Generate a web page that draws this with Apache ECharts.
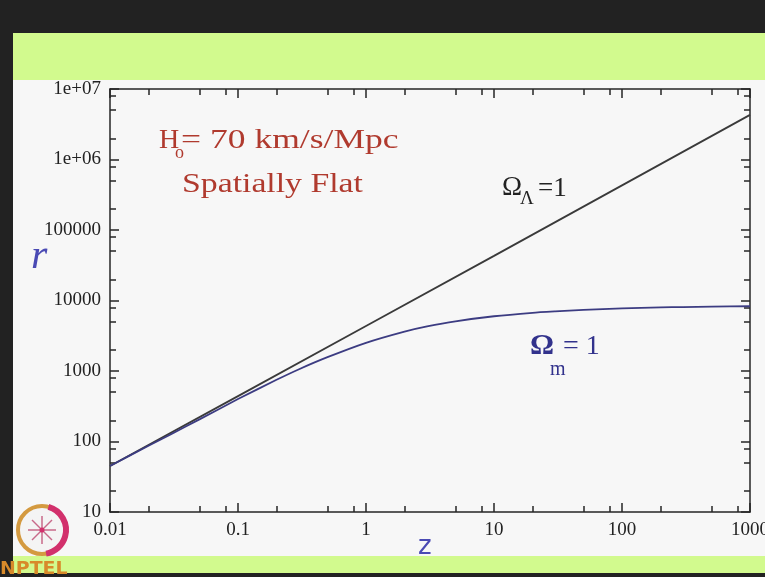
<!DOCTYPE html>
<html>
<head>
<meta charset="utf-8">
<title>comoving distance vs redshift</title>
<script src="https://cdn.jsdelivr.net/npm/echarts@6/dist/echarts.min.js"></script>
<style>
html, body { margin: 0; padding: 0; background: #f7f7f7; }
#main { width: 765px; height: 577px; }
</style>
</head>
<body>
<div id="main"></div>
<script>
// values (log-log)
var zLambda = [0.01, 0.1, 1, 10, 100, 1000];
var rLambda = [45, 440, 4350, 43000, 430000, 4300000];

var zMatter = [0.01, 0.02, 0.03, 0.05, 0.1, 0.2, 0.3, 0.5, 1, 2, 3, 5, 10, 20, 30, 50, 100, 200, 300, 500, 1000];
var rMatter = [45, 87, 127, 206, 400, 750, 1060, 1570, 2510, 3620, 4290, 5070, 5980, 6690, 7000, 7360, 7720, 7970, 8080, 8180, 8290];

// axis ticks
var xMajor = [0.01, 0.1, 1, 10, 100, 1000];
var xMinor = [0.02, 0.05, 0.08, 0.2, 0.5, 0.8, 2, 5, 8, 20, 50, 80, 200, 500, 800];
var xTickLabels = ['0.01', '0.1', '1', '10', '100', '1000'];
var yMajor = [10, 100, 1000, 10000, 100000, 1000000, 10000000];
var yMinor = [20, 50, 80, 200, 500, 800, 2000, 5000, 8000, 20000, 50000, 80000,
              200000, 500000, 800000, 2000000, 5000000, 8000000];
var yTickLabels = ['10', '100', '1000', '10000', '100000', '1e+06', '1e+07'];

(function(){
	var myChart = echarts.init(document.getElementById('main'));

	var axisColor = '#262626';
	var red = '#b03a2e';
	var blue = '#32328c';

	function pairs(xs, ys) {
		var out = [];
		for (var i = 0; i < xs.length; i++) out.push([xs[i], ys[i]]);
		return out;
	}

	function logAxis(position, min, max, ticks, tickLen, withLine, labels, labelIndex) {
		return {
			type: 'log',
			logBase: 10,
			min: min,
			max: max,
			position: position,
			axisLine: { show: withLine, onZero: false, lineStyle: { color: axisColor, width: 1.5 } },
			axisTick: { show: true, inside: true, length: tickLen, customValues: ticks,
				lineStyle: { color: axisColor, width: 1.5 } },
			axisLabel: labels ? {
				customValues: ticks,
				fontFamily: 'Liberation Serif',
				fontSize: 19,
				color: '#222',
				margin: 9,
				formatter: function (v) { return labels[labelIndex(v)]; }
			} : { show: false },
			splitLine: { show: false },
			minorTick: { show: false }
		};
	}

	var xIdx = function (v) { return Math.round(Math.log10(v)) + 2; };
	var yIdx = function (v) { return Math.round(Math.log10(v)) - 1; };

	function txt(x, y, s, font, fill, sx) {
		return {
			type: 'text', x: x, y: y, z: 100, scaleX: sx || 1,
			style: { text: s, font: font, fill: fill, textAlign: 'left', textVerticalAlign: 'middle' }
		};
	}

	option = {
		backgroundColor: '#f7f7f7',
		animation: false,
		grid: {
			left: 110, right: 15, top: 89, bottom: 65,
			containLabel: false,
			outerBoundsMode: 'none',
			show: true,
			backgroundColor: '#f7f7f7',
			borderWidth: 0
		},
		xAxis: [
			logAxis('bottom', 0.01, 1000, xMajor, 9, true, xTickLabels, xIdx),
			logAxis('bottom', 0.01, 1000, xMinor, 6, false),
			logAxis('top', 0.01, 1000, xMajor, 9, true),
			logAxis('top', 0.01, 1000, xMinor, 6, false)
		],
		yAxis: [
			logAxis('left', 10, 10000000, yMajor, 9, true, yTickLabels, yIdx),
			logAxis('left', 10, 10000000, yMinor, 6, false),
			logAxis('right', 10, 10000000, yMajor, 9, true),
			logAxis('right', 10, 10000000, yMinor, 6, false)
		],
		series: [
			{
				name: 'Omega_Lambda=1',
				type: 'line',
				data: pairs(zLambda, rLambda),
				showSymbol: false,
				lineStyle: { color: '#3a3a3a', width: 1.8 }
			},
			{
				name: 'Omega_m=1',
				type: 'line',
				data: pairs(zMatter, rMatter),
				showSymbol: false,
				smooth: 0.2,
				lineStyle: { color: '#3c3c82', width: 1.8 }
			}
		],
		graphic: [
			// slide frame
			{ type: 'rect', z: -10, shape: { x: 0, y: 0, width: 765, height: 33 }, style: { fill: '#222' } },
			{ type: 'rect', z: -10, shape: { x: 0, y: 33, width: 765, height: 47 }, style: { fill: '#d2fa8e' } },
			{ type: 'rect', z: -10, shape: { x: 0, y: 556, width: 765, height: 17 }, style: { fill: '#d2fa8e' } },
			{ type: 'rect', z: -10, shape: { x: 0, y: 573, width: 765, height: 4 }, style: { fill: '#222' } },
			{ type: 'rect', z: -9, shape: { x: 0, y: 0, width: 13, height: 577 }, style: { fill: '#222' } },

			// annotations
			txt(159, 141, 'H', '28px "Liberation Serif"', red),
			txt(175, 153, 'o', '18px "Liberation Serif"', red),
			txt(181, 141, '= 70 km/s/Mpc', '28px "Liberation Serif"', red, 1.27),
			txt(182, 185, 'Spatially Flat', '27px "Liberation Serif"', red, 1.25),

			txt(502, 188, '\u03A9', '27px "Liberation Serif"', '#222'),
			txt(520, 199, '\u039B', '19px "Liberation Serif"', '#222'),
			txt(538, 189, '=1', '27px "Liberation Serif"', '#222'),

			txt(530, 346, '\u03A9', 'bold 30px "Liberation Serif"', blue),
			txt(550, 370, 'm', '20px "Liberation Serif"', blue),
			txt(563, 347, '= 1', '28px "Liberation Serif"', blue),

			// axis names
			txt(31, 257, 'r', 'italic 42px "Liberation Serif"', '#4a4ab4'),
			txt(418, 547, 'z', '26px "DejaVu Sans"', '#4a4ab4'),

			// logo
			{ type: 'circle', z: 50, shape: { cx: 42, cy: 530, r: 24 }, style: { fill: '#f4f4f4', stroke: '#d49a40', lineWidth: 4 } },
			{ type: 'arc', z: 51, shape: { cx: 42, cy: 530, r: 24, startAngle: -1.3, endAngle: 1.4 }, style: { stroke: '#d2306c', lineWidth: 6, fill: 'none' } },
			{ type: 'line', z: 52, shape: { x1: 28, y1: 530, x2: 56, y2: 530 }, style: { stroke: '#c86a8a', lineWidth: 1.5 } },
			{ type: 'line', z: 52, shape: { x1: 42, y1: 516, x2: 42, y2: 544 }, style: { stroke: '#c86a8a', lineWidth: 1.5 } },
			{ type: 'line', z: 52, shape: { x1: 32, y1: 520, x2: 52, y2: 540 }, style: { stroke: '#c86a8a', lineWidth: 1.5 } },
			{ type: 'line', z: 52, shape: { x1: 52, y1: 520, x2: 32, y2: 540 }, style: { stroke: '#c86a8a', lineWidth: 1.5 } },
			{ type: 'circle', z: 53, shape: { cx: 42, cy: 530, r: 2.5 }, style: { fill: '#d2306c' } },
			txt(0, 569, 'NPTEL', 'bold 18px "DejaVu Sans"', '#d88a2a', 1.05)
		]
	};
	myChart.setOption(option);
})();
</script>
</body>
</html>
